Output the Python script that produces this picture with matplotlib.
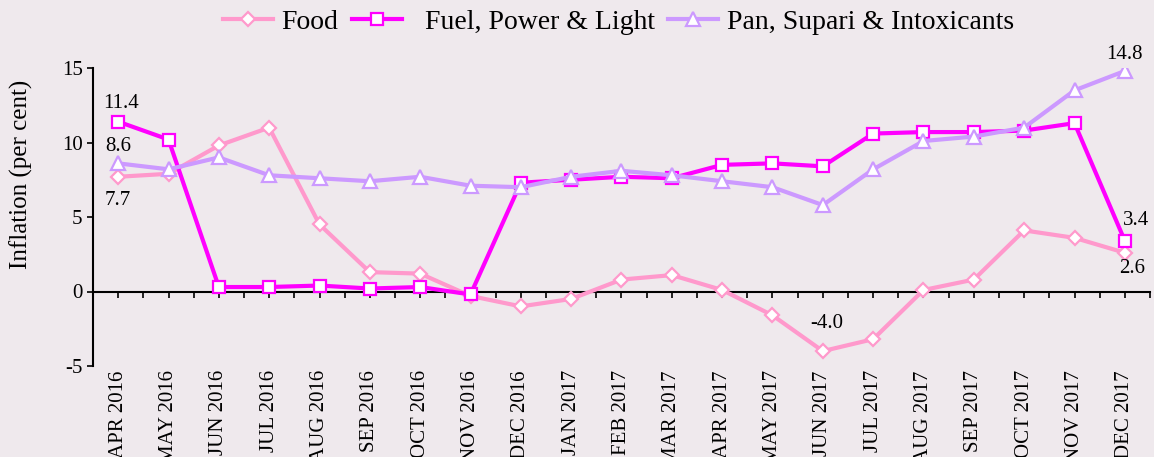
import numpy as np
import matplotlib.pyplot as plt

months = ['APR 2016', 'MAY 2016', 'JUN 2016', 'JUL 2016', 'AUG 2016', 'SEP 2016',
          'OCT 2016', 'NOV 2016', 'DEC 2016', 'JAN 2017', 'FEB 2017', 'MAR 2017',
          'APR 2017', 'MAY 2017', 'JUN 2017', 'JUL 2017', 'AUG 2017', 'SEP 2017',
          'OCT 2017', 'NOV 2017', 'DEC 2017']
food = [7.7, 7.9, 9.8, 11.0, 4.5, 1.3, 1.2, -0.3, -1.0, -0.5, 0.8, 1.1,
        0.1, -1.6, -4.0, -3.2, 0.1, 0.8, 4.1, 3.6, 2.6]
fuel = [11.4, 10.2, 0.3, 0.3, 0.4, 0.2, 0.3, -0.2, 7.3, 7.5, 7.7, 7.6,
        8.5, 8.6, 8.4, 10.6, 10.7, 10.7, 10.8, 11.3, 3.4]
pan = [8.6, 8.2, 9.0, 7.8, 7.6, 7.4, 7.7, 7.1, 7.0, 7.7, 8.1, 7.8,
       7.4, 7.0, 5.8, 8.2, 10.1, 10.4, 11.0, 13.5, 14.8]

plt.rcParams['font.family'] = ['Liberation Serif', 'DejaVu Serif']
plt.rcParams['axes.unicode_minus'] = False

bg = '#EFE9ED'
fig = plt.figure(figsize=(11.54, 4.57), dpi=100, facecolor=bg)
ax = fig.add_axes([93 / 1154, 1 - 366 / 457, 1057 / 1154, 298 / 457])
ax.set_facecolor(bg)

x = np.arange(len(months))
series = [
    ('Food', food, '#FF99CC', 'D', 7),
    ('  Fuel, Power & Light', fuel, '#FF00FF', 's', 9),
    ('Pan, Supari & Intoxicants', pan, '#CC99FF', '^', 9.5),
]
for label, vals, color, marker, ms in series:
    ax.plot(x, vals, color=color, lw=3, marker=marker, ms=ms,
            mfc='white', mec=color, mew=1.6, label=label)

# value labels: (series values, index, dx, dy) offsets in points
notes = [(fuel, 0, 2, 13), (pan, 0, 0, 12), (food, 0, 0, -17),
         (food, 14, 3, 20), (pan, 20, 0, 12), (fuel, 20, 8, 15),
         (food, 20, 5, -11)]
for vals, i, dx, dy in notes:
    ax.annotate(f'{vals[i]:.1f}', (x[i], vals[i]), xytext=(dx, dy),
                textcoords='offset points', ha='center', va='center', fontsize=15)

ax.set_xlim(-0.5, len(months) - 0.5)
ax.set_ylim(-5, 15)
ax.set_yticks([-5, 0, 5, 10, 15])
ax.tick_params(axis='y', labelsize=15, length=4, width=1.2, direction='out')
ax.set_xticks(x, labels=months, rotation=90, fontsize=15, va='top')
ax.tick_params(axis='x', length=0, pad=3)
for s in ['top', 'right', 'bottom']:
    ax.spines[s].set_visible(False)
ax.spines['left'].set_linewidth(1.5)

ylo, yhi = ax.get_ylim()
sec = ax.secondary_xaxis((0 - ylo) / (yhi - ylo))
sec.set_xticks(np.arange(-0.5, len(months), 0.5))
sec.set_xticklabels([])
sec.tick_params(axis='x', length=4.5, width=1.2, direction='out')
sec.spines['bottom'].set_linewidth(1.5)

ax.set_ylabel('Inflation (per cent)', fontsize=18)
ax.yaxis.set_label_coords(-0.057, 0.644)

fig.legend(loc='center', bbox_to_anchor=(0.536, 0.952), ncol=3, frameon=False,
           fontsize=20, handlelength=1.8, handletextpad=0.3, columnspacing=0.5)

fig.savefig('out.png', dpi=100, facecolor=bg)
